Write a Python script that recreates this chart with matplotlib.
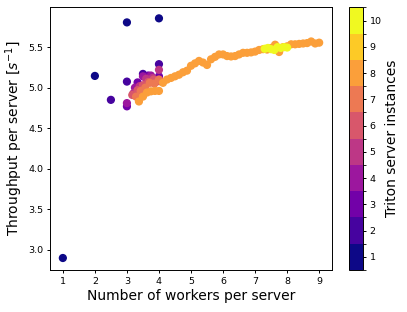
import numpy as np
import matplotlib
matplotlib.use("Agg")
import matplotlib.pyplot as plt
from matplotlib.colors import BoundaryNorm

# ----------------------------
# Datos
# ----------------------------

# 1 instancia
w1 = [1.0, 2.0, 3.0, 4.0]
t1 = [2.90, 5.145, 5.805, 5.855]

# 2 instancias
w2 = [2.5, 3.0, 3.5, 4.0]
t2 = [4.85, 5.075, 5.17, 5.29]

# 3 instancias
w3 = [3.0, 3.333, 3.667, 4.0]
t3 = [4.77, 5.065, 5.15, 5.14]

# 4 instancias
w4 = [3.0, 3.25, 3.5, 3.75, 4.0]
t4 = [4.81, 5.00, 5.14, 5.15, 5.10]

# 5 instancias
w5 = [3.2, 3.4, 3.6, 3.8, 4.0]
t5 = [4.93, 5.02, 5.11, 5.12, 5.22]

# 6 instancias
w6 = [3.167, 3.333, 3.5, 3.667, 3.833, 4.0]
t6 = [4.91, 4.97, 5.03, 5.07, 5.10, 5.08]

# 7 instancias
w7 = [3.286, 3.429, 3.571, 3.714, 3.857, 4.0]
t7 = [4.89, 4.96, 5.00, 5.06, 5.05, 5.10]

# 8 instancias
w8 = [3.375, 3.5, 3.625, 3.75, 3.875, 4.0, 4.125, 4.25, 4.375, 4.5,
      4.625, 4.75, 4.875, 5.0, 5.125, 5.25, 5.375, 5.5, 5.625, 5.75,
      5.875, 6.0, 6.125, 6.25, 6.375, 6.5, 6.625, 6.75, 6.875, 7.0,
      7.125, 7.25, 7.375, 7.5, 7.625, 7.75, 7.875, 8.0, 8.125, 8.25,
      8.375, 8.5, 8.625, 8.75, 8.875, 9.0]
t8 = [4.83, 4.89, 4.94, 4.955, 4.96, 4.96, 5.06, 5.10, 5.12, 5.14,
      5.16, 5.19, 5.21, 5.27, 5.30, 5.33, 5.31, 5.28, 5.35, 5.38,
      5.41, 5.41, 5.39, 5.385, 5.39, 5.41, 5.43, 5.43, 5.435, 5.445,
      5.465, 5.475, 5.47, 5.49, 5.53, 5.44, 5.50, 5.51, 5.535, 5.535,
      5.54, 5.545, 5.55, 5.57, 5.545, 5.555]

# 10 instancias
w10 = [7.3, 7.4, 7.5, 7.6, 7.7, 7.8, 7.9, 8.0]
t10 = [5.48, 5.49, 5.475, 5.465, 5.50, 5.49, 5.50, 5.495]

series = [(1, w1, t1), (2, w2, t2), (3, w3, t3), (4, w4, t4), (5, w5, t5),
          (6, w6, t6), (7, w7, t7), (8, w8, t8), (10, w10, t10)]

workers = np.concatenate([s[1] for s in series])
throughput = np.concatenate([s[2] for s in series])
instances = np.concatenate([[s[0]] * len(s[1]) for s in series])

# ----------------------------
# Grafico
# ----------------------------

# ticks y separaciones mas cortas (la figura original era de menor dpi)
plt.rcParams["xtick.major.size"] = 2.4
plt.rcParams["ytick.major.size"] = 2.4
plt.rcParams["xtick.major.pad"] = 2.4
plt.rcParams["ytick.major.pad"] = 2.4
plt.rcParams["axes.labelpad"] = 2.6
plt.rcParams["axes.linewidth"] = 0.7
plt.rcParams["xtick.major.width"] = 0.7
plt.rcParams["ytick.major.width"] = 0.7

fig = plt.figure(figsize=(4.07, 3.12), dpi=100)
ax = fig.add_axes([0.1229, 0.1346, 0.6928, 0.8417])
cax = fig.add_axes([0.8575, 0.1346, 0.0344, 0.8417])

cmap = plt.get_cmap("plasma", 10)
norm = BoundaryNorm(np.arange(0.5, 11.5, 1), cmap.N)

sc = ax.scatter(workers, throughput, c=instances, cmap=cmap, norm=norm, s=24)

ax.set_xlabel("Number of workers per server", fontsize=10)
ax.set_ylabel("Throughput per server [$s^{-1}$]", fontsize=10)
ax.set_xticks(range(1, 10))
ax.set_xlim(0.6, 9.4)
ax.set_ylim(2.752, 5.99)
ax.tick_params(labelsize=6.8)

cb = fig.colorbar(sc, cax=cax, ticks=range(1, 11))
cb.set_label("Triton server instances", fontsize=10)
cb.ax.tick_params(labelsize=6.8)
cb.outline.set_linewidth(0.7)

fig.savefig("out.png", dpi=100)
